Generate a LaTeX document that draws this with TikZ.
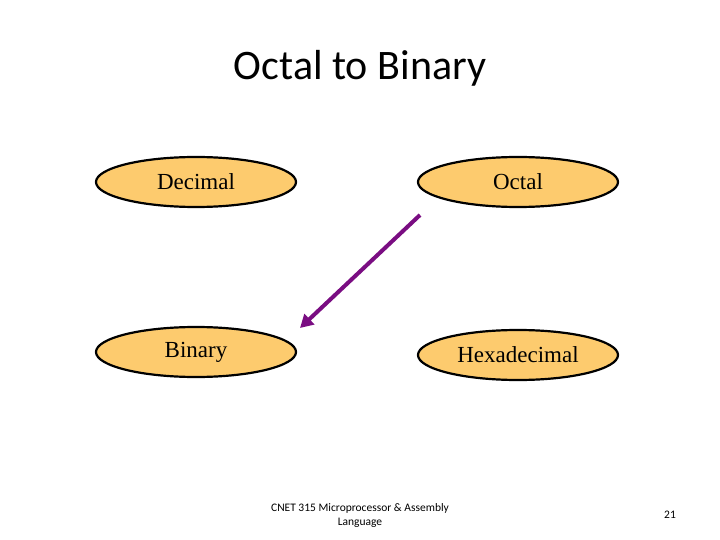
\documentclass[tikz,border=0pt]{standalone}
\usepackage{fontspec}
\setmainfont{Liberation Serif}
\newfontfamily\calfont{Carlito}
\usetikzlibrary{shapes.geometric,arrows.meta}
\definecolor{fillc}{HTML}{FDCB6E}
\definecolor{arr}{HTML}{7A0D82}
\begin{document}
\begin{tikzpicture}[x=1pt,y=-1pt,
  oval/.style={ellipse,draw=black,line width=2.2pt,fill=fillc,minimum width=200pt,minimum height=50pt,font=\fontsize{23}{25}\selectfont,inner sep=0pt}]
\useasboundingbox (0,0) rectangle (720,540);
\node[font=\calfont\fontsize{42}{46}\selectfont] (title) at (360,68) {Octal to Binary};
\node[oval] (dec) at (196,182) {Decimal};
\node[oval] (oct) at (518,182) {Octal};
\node[oval] (bin) at (196,352) {Binary};
\node[oval] (hex) at (518,355) {Hexadecimal};
\coordinate (s) at (420,215);
\coordinate (e) at (300,328);
\draw[arr,line width=4pt,-{Triangle[length=13pt,width=14pt]}] (s) -- (e);
\node[font=\calfont\fontsize{11.5}{14}\selectfont,align=center] (foot) at (360,515) {CNET 315 Microprocessor \& Assembly\\Language};
\node[font=\calfont\fontsize{11.5}{14}\selectfont] (num) at (670,515) {21};
\end{tikzpicture}
\end{document}
